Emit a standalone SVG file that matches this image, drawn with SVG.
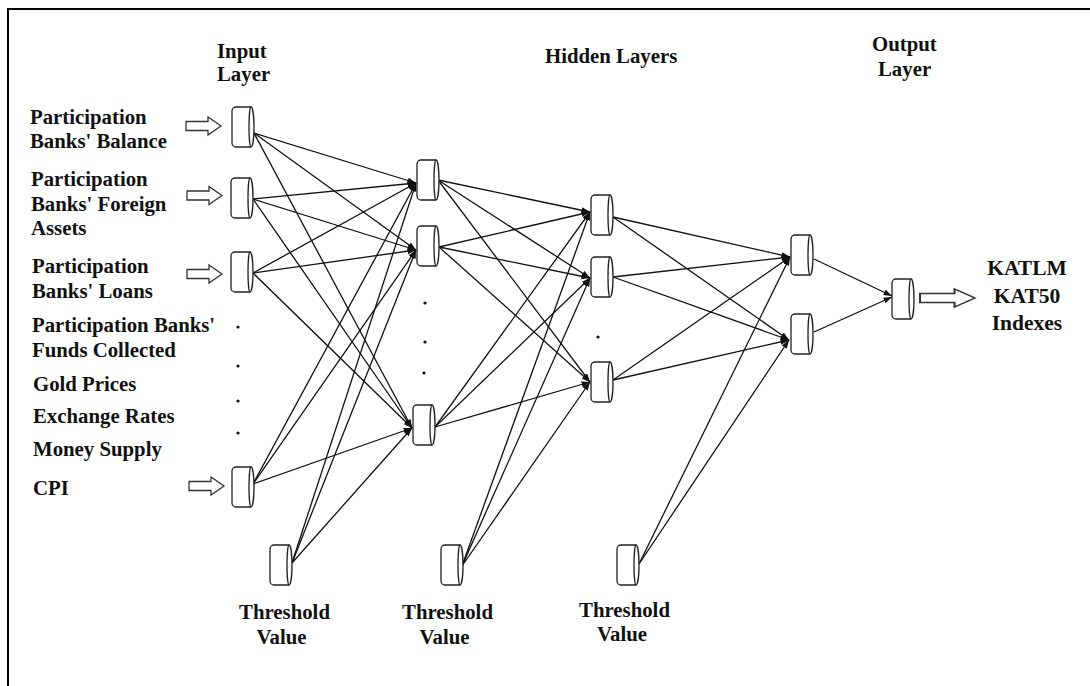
<svg xmlns="http://www.w3.org/2000/svg" xmlns:xlink="http://www.w3.org/1999/xlink" width="1090" height="686" viewBox="0 0 1090 686">
<style>
.t{font-family:"Liberation Serif","Times New Roman",serif;font-weight:bold;font-size:20.8px;fill:#111}
.k{font-size:21.5px}
.m{text-anchor:middle}
.cyl path{fill:#fff;stroke:#222;stroke-width:1.3}
.c line{stroke:#111;stroke-width:1.3;marker-end:url(#ah)}
.ha{fill:#fff;stroke:#333;stroke-width:1.3}
.dot{fill:#111}
</style>
<defs>
<marker id="ah" markerUnits="userSpaceOnUse" markerWidth="9" markerHeight="7" refX="8.5" refY="3.5" orient="auto"><path d="M0,0.5 L8.5,3.5 L0,6.5 Z" fill="#111"/></marker>
<g id="cyl" class="cyl"><path d="M4,0 H19 A3 20 0 0 1 19 40 H4 A4 4 0 0 1 0 36 V4 A4 4 0 0 1 4 0 Z"/><path d="M19,0 A2 20 0 0 0 19 40" fill="none"/></g>
<path id="harrow" class="ha" d="M0,-4.5 H22 V-9 L35,0 L22,9 V4.5 H0 Z"/>
</defs>
<rect width="1090" height="686" fill="#fff"/>
<path d="M8,686 V9 H1090" fill="none" stroke="#000" stroke-width="2"/>

<g id="titles">
<text class="t" x="217" y="58">Input</text>
<text class="t" x="217" y="81">Layer</text>
<text class="t" x="545" y="63">Hidden Layers</text>
<text class="t" x="872" y="51">Output</text>
<text class="t" x="878" y="76">Layer</text>
</g>

<g id="inputs-labels">
<text class="t" x="30" y="124">Participation</text>
<text class="t" x="30" y="148">Banks' Balance</text>
<text class="t" x="31" y="186">Participation</text>
<text class="t" x="31" y="211">Banks' Foreign</text>
<text class="t" x="31" y="235">Assets</text>
<text class="t" x="32" y="273">Participation</text>
<text class="t" x="32" y="298">Banks' Loans</text>
<text class="t" x="32" y="332">Participation Banks'</text>
<text class="t" x="32" y="357">Funds Collected</text>
<text class="t" x="33" y="391">Gold Prices</text>
<text class="t" x="33" y="423">Exchange Rates</text>
<text class="t" x="33" y="456">Money Supply</text>
<text class="t" x="33" y="495">CPI</text>
</g>

<g id="input-arrows">
<use xlink:href="#harrow" href="#harrow" transform="translate(186,126)"/>
<use xlink:href="#harrow" href="#harrow" transform="translate(187,195.5)"/>
<use xlink:href="#harrow" href="#harrow" transform="translate(187,274)"/>
<use xlink:href="#harrow" href="#harrow" transform="translate(189,486)"/>
</g>

<g id="connectors" class="c">
<line x1="254" y1="133" x2="416" y2="183"/>
<line x1="254" y1="133" x2="416" y2="250"/>
<line x1="254" y1="133" x2="412" y2="428"/>
<line x1="253" y1="199" x2="416" y2="183"/>
<line x1="253" y1="199" x2="416" y2="250"/>
<line x1="253" y1="199" x2="412" y2="428"/>
<line x1="253" y1="273" x2="416" y2="183"/>
<line x1="253" y1="273" x2="416" y2="250"/>
<line x1="253" y1="273" x2="412" y2="428"/>
<line x1="253" y1="484" x2="416" y2="183"/>
<line x1="253" y1="484" x2="416" y2="250"/>
<line x1="253" y1="484" x2="412" y2="428"/>
<line x1="292" y1="563" x2="416" y2="183"/>
<line x1="292" y1="563" x2="416" y2="250"/>
<line x1="292" y1="563" x2="412" y2="428"/>
<line x1="438" y1="180" x2="590" y2="212"/>
<line x1="438" y1="180" x2="590" y2="278"/>
<line x1="438" y1="180" x2="590" y2="382"/>
<line x1="439" y1="247" x2="590" y2="212"/>
<line x1="439" y1="247" x2="590" y2="278"/>
<line x1="439" y1="247" x2="590" y2="382"/>
<line x1="435" y1="427" x2="590" y2="212"/>
<line x1="435" y1="427" x2="590" y2="278"/>
<line x1="435" y1="427" x2="590" y2="382"/>
<line x1="462" y1="566" x2="590" y2="212"/>
<line x1="462" y1="566" x2="590" y2="278"/>
<line x1="462" y1="566" x2="590" y2="382"/>
<line x1="613" y1="217" x2="790" y2="257"/>
<line x1="613" y1="217" x2="789" y2="340"/>
<line x1="613" y1="277" x2="790" y2="257"/>
<line x1="613" y1="277" x2="789" y2="340"/>
<line x1="613" y1="380" x2="790" y2="257"/>
<line x1="613" y1="380" x2="789" y2="340"/>
<line x1="639" y1="564" x2="790" y2="257"/>
<line x1="639" y1="564" x2="789" y2="340"/>
<line x1="814" y1="259" x2="892" y2="296"/>
<line x1="814" y1="332" x2="892" y2="297"/>
</g>

<g id="in1"><use xlink:href="#cyl" href="#cyl" transform="translate(232,107)"/></g>
<g id="in2"><use xlink:href="#cyl" href="#cyl" transform="translate(231,178)"/></g>
<g id="in3"><use xlink:href="#cyl" href="#cyl" transform="translate(231,252)"/></g>
<g id="in4"><use xlink:href="#cyl" href="#cyl" transform="translate(232,467)"/></g>
<g id="in-dots" class="dot"><circle cx="238" cy="327" r="1.6"/><circle cx="238" cy="366" r="1.6"/><circle cx="238" cy="401" r="1.6"/><circle cx="238" cy="433" r="1.6"/></g>

<g id="h1n1"><use xlink:href="#cyl" href="#cyl" transform="translate(417,160)"/></g>
<g id="h1n2"><use xlink:href="#cyl" href="#cyl" transform="translate(417,226)"/></g>
<g id="h1n3"><use xlink:href="#cyl" href="#cyl" transform="translate(413,405)"/></g>
<g id="h1-dots" class="dot"><circle cx="425" cy="303" r="1.6"/><circle cx="425" cy="342" r="1.6"/><circle cx="424" cy="373" r="1.6"/></g>

<g id="h2n1"><use xlink:href="#cyl" href="#cyl" transform="translate(591,195)"/></g>
<g id="h2n2"><use xlink:href="#cyl" href="#cyl" transform="translate(591,257)"/></g>
<g id="h2n3"><use xlink:href="#cyl" href="#cyl" transform="translate(591,362)"/></g>
<g id="h2-dots" class="dot"><circle cx="598" cy="337" r="1.6"/></g>

<g id="o1"><use xlink:href="#cyl" href="#cyl" transform="translate(791,235)"/></g>
<g id="o2"><use xlink:href="#cyl" href="#cyl" transform="translate(791,314)"/></g>
<g id="final"><use xlink:href="#cyl" href="#cyl" transform="translate(892,279)"/></g>

<g id="t1"><use xlink:href="#cyl" href="#cyl" transform="translate(270,545)"/>
<text class="t m" x="284.5" y="619">Threshold</text><text class="t m" x="281.5" y="644">Value</text></g>
<g id="t2"><use xlink:href="#cyl" href="#cyl" transform="translate(441,545)"/>
<text class="t m" x="447.5" y="619">Threshold</text><text class="t m" x="444.5" y="644">Value</text></g>
<g id="t3"><use xlink:href="#cyl" href="#cyl" transform="translate(617,545)"/>
<text class="t m" x="624.5" y="617">Threshold</text><text class="t m" x="622" y="641">Value</text></g>

<g id="output">
<use xlink:href="#harrow" href="#harrow" transform="translate(920,298) scale(1.57,1)"/>
<text class="t k m" x="1027" y="275">KATLM</text>
<text class="t k m" x="1027" y="303">KAT50</text>
<text class="t k m" x="1027" y="330">Indexes</text>
</g>
</svg>
